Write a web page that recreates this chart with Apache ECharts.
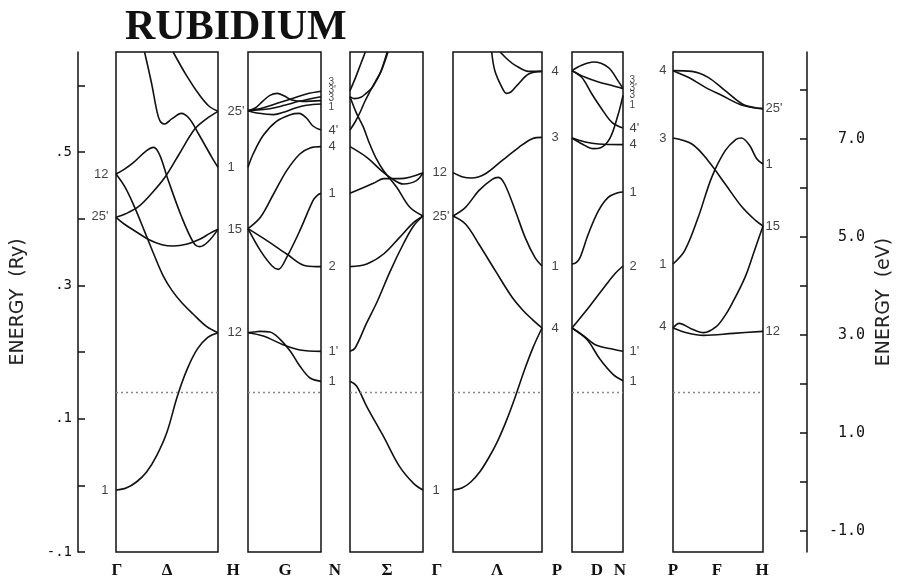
<!DOCTYPE html>
<html><head><meta charset="utf-8">
<script src="https://cdn.jsdelivr.net/npm/echarts@6/dist/echarts.min.js"></script>
<style>html,body{margin:0;padding:0;background:#fff}#c{width:897px;height:582px}</style>
</head><body><div id="c"></div>
<script>
// ---------------- data ----------------
const titleText = 'RUBIDIUM';
const fermiLevel = 0.141;
const ryTicks = [-0.1, 0, 0.1, 0.2, 0.3, 0.4, 0.5, 0.6];
const ryLabels = [-0.1, 0.1, 0.3, 0.5];
const evTicks = [-1, 0, 1, 2, 3, 4, 5, 6, 7, 8];
const evLabels = [-1, 1, 3, 5, 7];
const kLabels = ['Γ', 'Δ', 'H', 'G', 'N', 'Σ', 'Γ', 'Λ', 'P', 'D', 'N', 'P', 'F', 'H'];

// bands: [k fraction along segment, energy (Ry)]
const deltaBands = [
  [[0,-0.007],[0.1,-0.004],[0.2,0.005],[0.3,0.02],[0.4,0.045],[0.5,0.08],[0.6,0.133],[0.7,0.175],[0.8,0.205],[0.9,0.222],[1,0.229]],
  [[0,0.467],[0.09,0.447],[0.18,0.418],[0.28,0.381],[0.37,0.347],[0.46,0.315],[0.55,0.292],[0.65,0.273],[0.755,0.257],[0.89,0.238],[1,0.229]],
  [[0,0.467],[0.08,0.474],[0.17,0.484],[0.3,0.502],[0.37,0.507],[0.43,0.495],[0.5,0.463],[0.64,0.404],[0.76,0.364],[0.82,0.358],[0.9,0.365],[1,0.384]],
  [[0,0.402],[0.08,0.392],[0.17,0.383],[0.33,0.368],[0.45,0.361],[0.56,0.359],[0.7,0.362],[0.82,0.369],[0.92,0.378],[1,0.384]],
  [[0,0.402],[0.09,0.407],[0.22,0.418],[0.35,0.438],[0.48,0.462],[0.62,0.497],[0.77,0.534],[0.88,0.549],[1,0.561]],
  [[0.28,0.65],[0.35,0.602],[0.4,0.562],[0.43,0.547],[0.47,0.542],[0.55,0.55],[0.64,0.558],[0.72,0.55],[0.81,0.527],[0.94,0.492],[1,0.477]],
  [[0.56,0.65],[0.69,0.615],[0.82,0.585],[0.91,0.569],[1,0.561]]
];
const gBands = [
  [[0,0.229],[0.21,0.224],[0.48,0.211],[0.71,0.203],[1,0.201]],
  [[0,0.229],[0.08,0.230],[0.16,0.231],[0.3,0.230],[0.44,0.219],[0.58,0.201],[0.71,0.179],[0.85,0.161],[1,0.156]],
  [[0,0.385],[0.17,0.402],[0.35,0.437],[0.53,0.472],[0.71,0.497],[0.85,0.506],[1,0.508]],
  [[0,0.385],[0.17,0.352],[0.33,0.329],[0.415,0.324],[0.53,0.342],[0.71,0.382],[0.89,0.427],[0.95,0.435],[1,0.438]],
  [[0,0.385],[0.26,0.367],[0.53,0.347],[0.8,0.329],[1,0.328]],
  [[0,0.477],[0.07,0.497],[0.21,0.525],[0.39,0.546],[0.58,0.556],[0.7,0.558],[0.8,0.551],[0.89,0.539],[1,0.533]],
  [[0,0.562],[0.1,0.566],[0.2,0.576],[0.3,0.585],[0.4,0.588],[0.5,0.584],[0.6,0.578],[0.75,0.576],[1,0.577]],
  [[0,0.562],[0.2,0.566],[0.4,0.573],[0.6,0.58],[0.8,0.587],[1,0.591]],
  [[0,0.562],[0.3,0.565],[0.5,0.57],[0.7,0.576],[1,0.583]],
  [[0,0.562],[0.15,0.558],[0.35,0.556],[0.5,0.56],[0.65,0.566],[0.8,0.57],[1,0.572]]
];
const sigmaBands = [
  [[0,0.156],[0.09,0.149],[0.23,0.118],[0.46,0.073],[0.68,0.028],[0.87,0.003],[1,-0.007]],
  [[0,0.201],[0.07,0.206],[0.23,0.244],[0.37,0.275],[0.55,0.321],[0.73,0.362],[0.87,0.389],[1,0.404]],
  [[0,0.328],[0.23,0.332],[0.46,0.347],[0.68,0.372],[0.87,0.394],[1,0.404]],
  [[0,0.438],[0.32,0.453],[0.46,0.46],[0.68,0.46],[1,0.469]],
  [[0,0.508],[0.23,0.492],[0.41,0.474],[0.55,0.462],[0.73,0.452],[0.91,0.457],[1,0.469]],
  [[0,0.583],[0.09,0.558],[0.18,0.538],[0.27,0.512],[0.36,0.49],[0.46,0.472],[0.64,0.447],[0.82,0.417],[1,0.404]],
  [[0,0.592],[0.07,0.61],[0.14,0.63],[0.21,0.65]],
  [[0,0.583],[0.06,0.58],[0.15,0.582],[0.22,0.588],[0.3,0.596],[0.36,0.607],[0.42,0.62],[0.51,0.65]],
  [[0,0.533],[0.07,0.545],[0.14,0.56],[0.2,0.575],[0.27,0.59],[0.35,0.606],[0.43,0.622],[0.52,0.65]]
];
const lambdaBands = [
  [[0,-0.007],[0.1,-0.004],[0.2,0.005],[0.3,0.02],[0.4,0.041],[0.5,0.066],[0.6,0.097],[0.7,0.133],[0.8,0.172],[0.9,0.207],[1,0.236]],
  [[0,0.404],[0.14,0.392],[0.29,0.362],[0.475,0.322],[0.66,0.283],[0.79,0.262],[0.89,0.249],[1,0.236]],
  [[0,0.404],[0.14,0.417],[0.29,0.442],[0.44,0.459],[0.51,0.462],[0.58,0.452],[0.7,0.412],[0.81,0.372],[0.92,0.342],[1,0.329]],
  [[0,0.469],[0.1,0.463],[0.21,0.461],[0.36,0.467],[0.55,0.487],[0.74,0.507],[0.89,0.52],[1,0.522]],
  [[0.53,0.65],[0.62,0.638],[0.7,0.63],[0.85,0.621],[1,0.621]],
  [[0.435,0.65],[0.47,0.622],[0.55,0.597],[0.6,0.588],[0.65,0.59],[0.72,0.6],[0.85,0.617],[1,0.621]]
];
const dBands = [
  [[0,0.332],[0.08,0.334],[0.16,0.342],[0.32,0.377],[0.52,0.412],[0.71,0.432],[0.9,0.439],[1,0.44]],
  [[0,0.236],[0.35,0.269],[0.68,0.302],[0.85,0.318],[1,0.329]],
  [[0,0.236],[0.23,0.224],[0.48,0.21],[0.81,0.204],[1,0.201]],
  [[0,0.236],[0.29,0.219],[0.55,0.189],[0.81,0.166],[1,0.157]],
  [[0,0.521],[0.26,0.515],[0.52,0.512],[1,0.511]],
  [[0,0.521],[0.2,0.512],[0.42,0.505],[0.55,0.506],[0.74,0.52],[0.9,0.555],[1,0.585]],
  [[0,0.622],[0.19,0.63],[0.42,0.635],[0.71,0.627],[0.9,0.607],[1,0.595]],
  [[0,0.622],[0.26,0.612],[0.52,0.605],[0.77,0.6],[1,0.595]],
  [[0,0.622],[0.19,0.612],[0.39,0.587],[0.58,0.565],[0.79,0.544],[1,0.536]]
];
const fBands = [
  [[0,0.622],[0.21,0.621],[0.39,0.612],[0.58,0.592],[0.77,0.572],[0.92,0.566],[1,0.565]],
  [[0,0.622],[0.17,0.612],[0.36,0.597],[0.54,0.585],[0.77,0.57],[1,0.565]],
  [[0,0.521],[0.21,0.512],[0.39,0.487],[0.58,0.452],[0.77,0.417],[0.92,0.397],[1,0.389]],
  [[0,0.332],[0.13,0.352],[0.28,0.402],[0.43,0.462],[0.58,0.502],[0.7,0.519],[0.76,0.521],[0.85,0.51],[0.93,0.49],[1,0.482]],
  [[0,0.236],[0.07,0.243],[0.2,0.235],[0.34,0.229],[0.48,0.238],[0.58,0.255],[0.65,0.271],[0.8,0.312],[0.9,0.35],[1,0.389]],
  [[0,0.236],[0.15,0.229],[0.34,0.225],[0.67,0.228],[1,0.231]]
];

// irreducible-representation labels: [text, energy]
const gammaLeftLabels = [['12',0.467],["25'",0.403],['1',-0.007]];
const hLabelsDelta = [["25'",0.561],['1',0.477],['15',0.384],['12',0.229]];
const nStackG = [['3',0.604],["3'",0.592],['3',0.581],['1',0.567]];
const nLabelsG = [["4'",0.533],['4',0.508],['1',0.438],['2',0.328],["1'",0.201],['1',0.156]];
const gammaRightLabels = [['12',0.469],["25'",0.404],['1',-0.007]];
const pLabelsLambda = [['4',0.621],['3',0.522],['1',0.329],['4',0.236]];
const nStackD = [['3',0.607],["3'",0.595],['3',0.585],['1',0.57]];
const nLabelsD = [["4'",0.536],['4',0.511],['1',0.44],['2',0.329],["1'",0.201],['1',0.156]];
const pLabelsF = [['4',0.622],['3',0.521],['1',0.332],['4',0.238]];
const hLabelsF = [["25'",0.565],['1',0.482],['15',0.389],['12',0.231]];

// ---------------- layout ----------------
const panelLayout = [[116,102],[248,73],[350,73],[453,89],[572,51],[673,90]];
const kLabelX = [117,167,233,285,335,387,437,497,557,597,620,673,717,762];
const panelBands = [deltaBands, gBands, sigmaBands, lambdaBands, dBands, fBands];

const INK = '#111';
const grids = panelLayout.map(([l,w]) => ({left:l, top:52, width:w, height:500, show:true,
  borderColor:INK, borderWidth:1.5, backgroundColor:'transparent', containLabel:false, outerBoundsMode:'none'}));
const xAxes = panelLayout.map((p,i) => ({gridIndex:i, type:'value', min:0, max:1, show:false}));
const fmtRy = v => (Math.round(v*10)/10).toFixed(1).replace(/^(-?)0\./, '$1.');
const yAxes = panelLayout.map((p,i) => {
  if (i !== 0) return {gridIndex:i, type:'value', min:-0.1, max:0.65, show:false};
  return {gridIndex:0, type:'value', min:-0.1, max:0.65, position:'left', offset:38,
    axisLine:{show:true, onZero:false, lineStyle:{color:INK, width:1.5}},
    axisTick:{show:true, inside:true, length:7, customValues:ryTicks, lineStyle:{color:INK, width:1.5}},
    axisLabel:{show:true, customValues:ryLabels, formatter:fmtRy, margin:6,
      fontFamily:'DejaVu Sans Mono', fontSize:14, color:INK},
    splitLine:{show:false},
    name:'ENERGY  (Ry)', nameLocation:'middle', nameRotate:90, nameGap:50,
    nameTextStyle:{fontFamily:'DejaVu Sans', fontSize:19, color:'#222'}};
});
yAxes.push({gridIndex:5, type:'value', min:-1.43, max:8.78, position:'right', offset:44,
  axisLine:{show:true, onZero:false, lineStyle:{color:INK, width:1.5}},
  axisTick:{show:true, inside:true, length:7, customValues:evTicks, lineStyle:{color:INK, width:1.5}},
  axisLabel:{show:true, customValues:evLabels, formatter:v => v.toFixed(1), align:'right', margin:58,
    fontFamily:'DejaVu Sans Mono', fontSize:15, color:INK},
  splitLine:{show:false},
  name:'ENERGY  (eV)', nameLocation:'middle', nameRotate:90, nameGap:68,
  nameTextStyle:{fontFamily:'DejaVu Sans', fontSize:19, color:'#222'}});

const series = [];
panelBands.forEach((bands, i) => {
  bands.forEach((b, j) => {
    const s = {type:'line', xAxisIndex:i, yAxisIndex:i, data:b, smooth:0.35, showSymbol:false, symbol:'none',
      lineStyle:{color:INK, width:1.6}, silent:true, animation:false, z:3};
    if (j === 0) s.markLine = {silent:true, animation:false, symbol:['none','none'], label:{show:false},
      lineStyle:{type:[2,3], color:'#888', width:1.3}, data:[{yAxis:fermiLevel}]};
    series.push(s);
  });
});
function labelSeries(arr, idx, side, dist, size) {
  return {type:'scatter', xAxisIndex:idx, yAxisIndex:idx, symbolSize:1, silent:true, animation:false,
    itemStyle:{color:'rgba(0,0,0,0)'},
    data: arr.map(([t,e]) => [side === 'left' ? 0 : 1, e, t]),
    label:{show:true, position:side, distance:dist, formatter:p => p.data[2],
      color:INK, fontFamily:'Liberation Sans', fontSize:size}};
}
series.push(labelSeries(gammaLeftLabels, 0, 'left', 7, 13));
series.push(labelSeries(hLabelsDelta, 0, 'right', 9, 13));
series.push(labelSeries(nStackG, 1, 'right', 7, 10));
series.push(labelSeries(nLabelsG, 1, 'right', 7, 13));
series.push(labelSeries(gammaRightLabels, 2, 'right', 9, 13));
series.push(labelSeries(pLabelsLambda, 3, 'right', 9, 13));
series.push(labelSeries(nStackD, 4, 'right', 6, 10));
series.push(labelSeries(nLabelsD, 4, 'right', 6, 13));
series.push(labelSeries(pLabelsF, 5, 'left', 6, 13));
series.push(labelSeries(hLabelsF, 5, 'right', 2, 13));

const graphic = kLabels.map((t, i) => ({type:'text', x:kLabelX[i], y:571, silent:true,
  style:{text:t, font:'bold 17px "Liberation Serif"', fill:INK,
    textAlign:'center', align:'center', textVerticalAlign:'middle', verticalAlign:'middle'}}));

const chart = echarts.init(document.getElementById('c'), null, {renderer:'canvas'});
chart.setOption({
  animation:false,
  backgroundColor:'#fff',
  title:{text:titleText, left:120, top:2,
    textStyle:{fontFamily:'Liberation Serif', fontWeight:'bold', fontSize:42, color:INK}},
  grid:grids, xAxis:xAxes, yAxis:yAxes, series:series, graphic:graphic
});
</script></body></html>
